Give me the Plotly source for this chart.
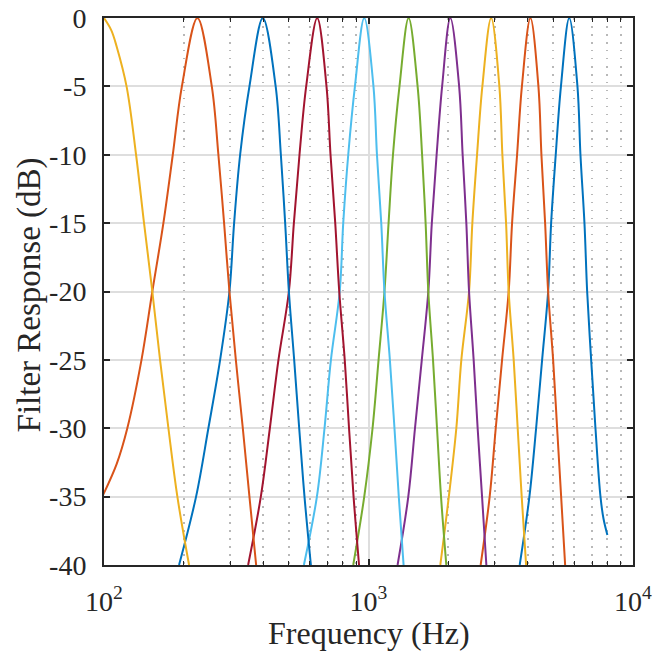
import plotly.graph_objects as go

# dB levels at which each flank was read (rising flank ends at the peak, falling flank starts after it)
DB_RISE = [-40, -35, -30, -25, -20, -15, -10, -5, 0]
DB_FALL = [-5, -10, -15, -20, -25, -30, -35, -40]
TOP_DB = [-0.9, -2.1]          # extra readings just below the first (100 Hz) peak
LEFT_DB_2 = [-35, -32.6, -30, -25, -20, -15, -10, -5, 0]   # levels read on band 2's rising flank

# frequencies (Hz) of each filter's flanks; left lists align with the end of DB_RISE
LEFT_HZ_1 = [100.0]
TOP_HZ_1 = [106.6, 111.7]
RIGHT_HZ_1 = [121.7, 132.2, 141.7, 152.3, 162.9, 175.2, 189.4, 209.7]
LEFT_HZ_2 = [98.5, 111.7, 122.5, 138.6, 152.3, 167.7, 182.0, 197.0, 225.5]
RIGHT_HZ_2 = [255.6, 270.7, 284.5, 298.0, 315.1, 334.8, 354.7, 376.0]
LEFT_HZ_3 = [192.2, 222.9, 248.1, 274.8, 298.0, 310.4, 327.1, 354.7, 398.6]
RIGHT_HZ_3 = [445.7, 466.3, 484.1, 500.0, 523.6, 547.0, 572.8, 605.6]
LEFT_HZ_4 = [350.7, 391.7, 423.7, 456.6, 500.0, 522.2, 548.4, 581.3, 639.8]
RIGHT_HZ_4 = [693.8, 718.5, 748.6, 775.1, 813.1, 844.1, 878.1, 921.0]
LEFT_HZ_5 = [569.8, 638.2, 681.9, 721.0, 778.4, 802.5, 838.3, 888.6, 963.7]
RIGHT_HZ_5 = [1044.1, 1076.4, 1117.5, 1149.1, 1204.5, 1253.7, 1301.6, 1357.3]
LEFT_HZ_6 = [875.6, 963.7, 1035.9, 1091.5, 1149.1, 1190.9, 1237.5, 1309.6, 1417.6]
RIGHT_HZ_6 = [1533.3, 1594.6, 1644.0, 1683.1, 1753.5, 1815.7, 1880.1, 1968.9]
LEFT_HZ_7 = [1288.1, 1413.9, 1498.9, 1590.4, 1683.1, 1735.3, 1809.4, 1898.2, 2038.8]
RIGHT_HZ_7 = [2201.3, 2269.5, 2343.8, 2399.6, 2497.7, 2586.3, 2687.4, 2790.0]
LEFT_HZ_8 = [1868.6, 2012.3, 2148.2, 2243.9, 2399.6, 2469.6, 2572.8, 2694.4, 2909.1]
RIGHT_HZ_8 = [3124.6, 3207.4, 3312.5, 3388.4, 3539.3, 3664.8, 3795.0, 3943.3]
LEFT_HZ_9 = [2654.8, 2871.4, 3027.4, 3199.0, 3388.4, 3490.2, 3645.7, 3801.6, 4093.8]
RIGHT_HZ_9 = [4389.4, 4505.6, 4653.2, 4776.5, 4989.2, 5166.1, 5349.4, 5539.1]
LEFT_HZ_10 = [3729.4, 4058.3, 4302.3, 4533.2, 4776.5, 4903.0, 5103.5, 5340.1, 5740.6]
RIGHT_HZ_10 = [6165.8, 6329.1, 6553.6, 6709.6, 6947.2, 7212.4, 7534.3]
TAIL_HZ_10 = [7733.4, 8000.0]
TAIL_DB_10 = [-36.6, -37.8]

COLORS = ["#EDB120", "#D95319", "#0072BD", "#A2142F", "#4DBEEE",
          "#77AC30", "#7E2F8E", "#EDB120", "#D95319", "#0072BD"]

X_TICKS = [100, 1000, 10000]
X_TICK_TEXT = ["10<sup>2</sup>", "10<sup>3</sup>", "10<sup>4</sup>"]
X_MINOR = [200, 300, 400, 500, 600, 700, 800, 900,
           2000, 3000, 4000, 5000, 6000, 7000, 8000, 9000]
Y_TICKS = [-40, -35, -30, -25, -20, -15, -10, -5, 0]
Y_TICK_TEXT = ["-40", "-35", "-30", "-25", "-20", "-15", "-10", "-5", "0"]

LEFTS = [LEFT_HZ_1, LEFT_HZ_2, LEFT_HZ_3, LEFT_HZ_4, LEFT_HZ_5,
         LEFT_HZ_6, LEFT_HZ_7, LEFT_HZ_8, LEFT_HZ_9, LEFT_HZ_10]
RIGHTS = [RIGHT_HZ_1, RIGHT_HZ_2, RIGHT_HZ_3, RIGHT_HZ_4, RIGHT_HZ_5,
          RIGHT_HZ_6, RIGHT_HZ_7, RIGHT_HZ_8, RIGHT_HZ_9, RIGHT_HZ_10]

FONT = "Liberation Serif"
AX = "#262626"

fig = go.Figure()
# plotted from the highest band down, as in the original
for i in reversed(range(len(LEFTS))):
    left, right = LEFTS[i], RIGHTS[i]
    xs = list(left)
    ys = LEFT_DB_2 if i == 1 else DB_RISE[len(DB_RISE) - len(left):]
    if i == 0:
        xs = xs + TOP_HZ_1
        ys = ys + TOP_DB
    xs = xs + right
    ys = ys + DB_FALL[:len(right)]
    if i == len(LEFTS) - 1:
        xs = xs + TAIL_HZ_10
        ys = ys + TAIL_DB_10
    fig.add_trace(go.Scatter(
        x=xs, y=ys, mode="lines",
        line=dict(color=COLORS[i], width=2, shape="spline", smoothing=1.0),
        showlegend=False, hoverinfo="skip"))

fig.update_layout(
    width=653, height=652,
    margin=dict(l=104, r=20, t=18, b=87),
    paper_bgcolor="white", plot_bgcolor="white",
    font=dict(family=FONT, color=AX, size=28),
    xaxis=dict(
        type="log", range=[2, 4], automargin=False,
        tickvals=X_TICKS, ticktext=X_TICK_TEXT,
        ticks="inside", ticklen=6, tickwidth=1.5, tickcolor=AX,
        showline=True, linecolor=AX, linewidth=2, mirror="ticks",
        showgrid=True, gridcolor="#DEDEDE", gridwidth=1.5,
        zeroline=False, ticklabelstandoff=10,
        tickfont=dict(family=FONT, size=28, color=AX),
        minor=dict(tickvals=X_MINOR, ticks="inside", ticklen=4, tickwidth=1.2,
                   tickcolor=AX, showgrid=True, gridcolor="#B8B8B8",
                   griddash="1.5px,6.5px", gridwidth=1.5),
    ),
    yaxis=dict(
        range=[-40, 0], automargin=False,
        tickvals=Y_TICKS, ticktext=Y_TICK_TEXT,
        ticks="inside", ticklen=6, tickwidth=1.5, tickcolor=AX,
        showline=True, linecolor=AX, linewidth=2, mirror="ticks",
        showgrid=True, gridcolor="#DEDEDE", gridwidth=1.5,
        zeroline=False, ticklabelstandoff=10,
        tickfont=dict(family=FONT, size=28, color=AX),
    ),
    annotations=[
        dict(text="Frequency (Hz)", xref="paper", yref="paper",
             x=0.5, y=-0.1588, xanchor="center", yanchor="bottom", borderpad=0,
             showarrow=False, font=dict(family=FONT, size=32, color=AX)),
        dict(text="Filter Response (dB)", xref="paper", yref="paper",
             x=-0.14, y=0.4945, xanchor="center", yanchor="middle", textangle=-90,
             showarrow=False, font=dict(family=FONT, size=33, color=AX)),
    ],
)

fig.write_html(
    "out.html",
    config={"displayModeBar": False},
    post_script="document.body.style.margin='0';document.body.style.overflow='hidden';",
)
